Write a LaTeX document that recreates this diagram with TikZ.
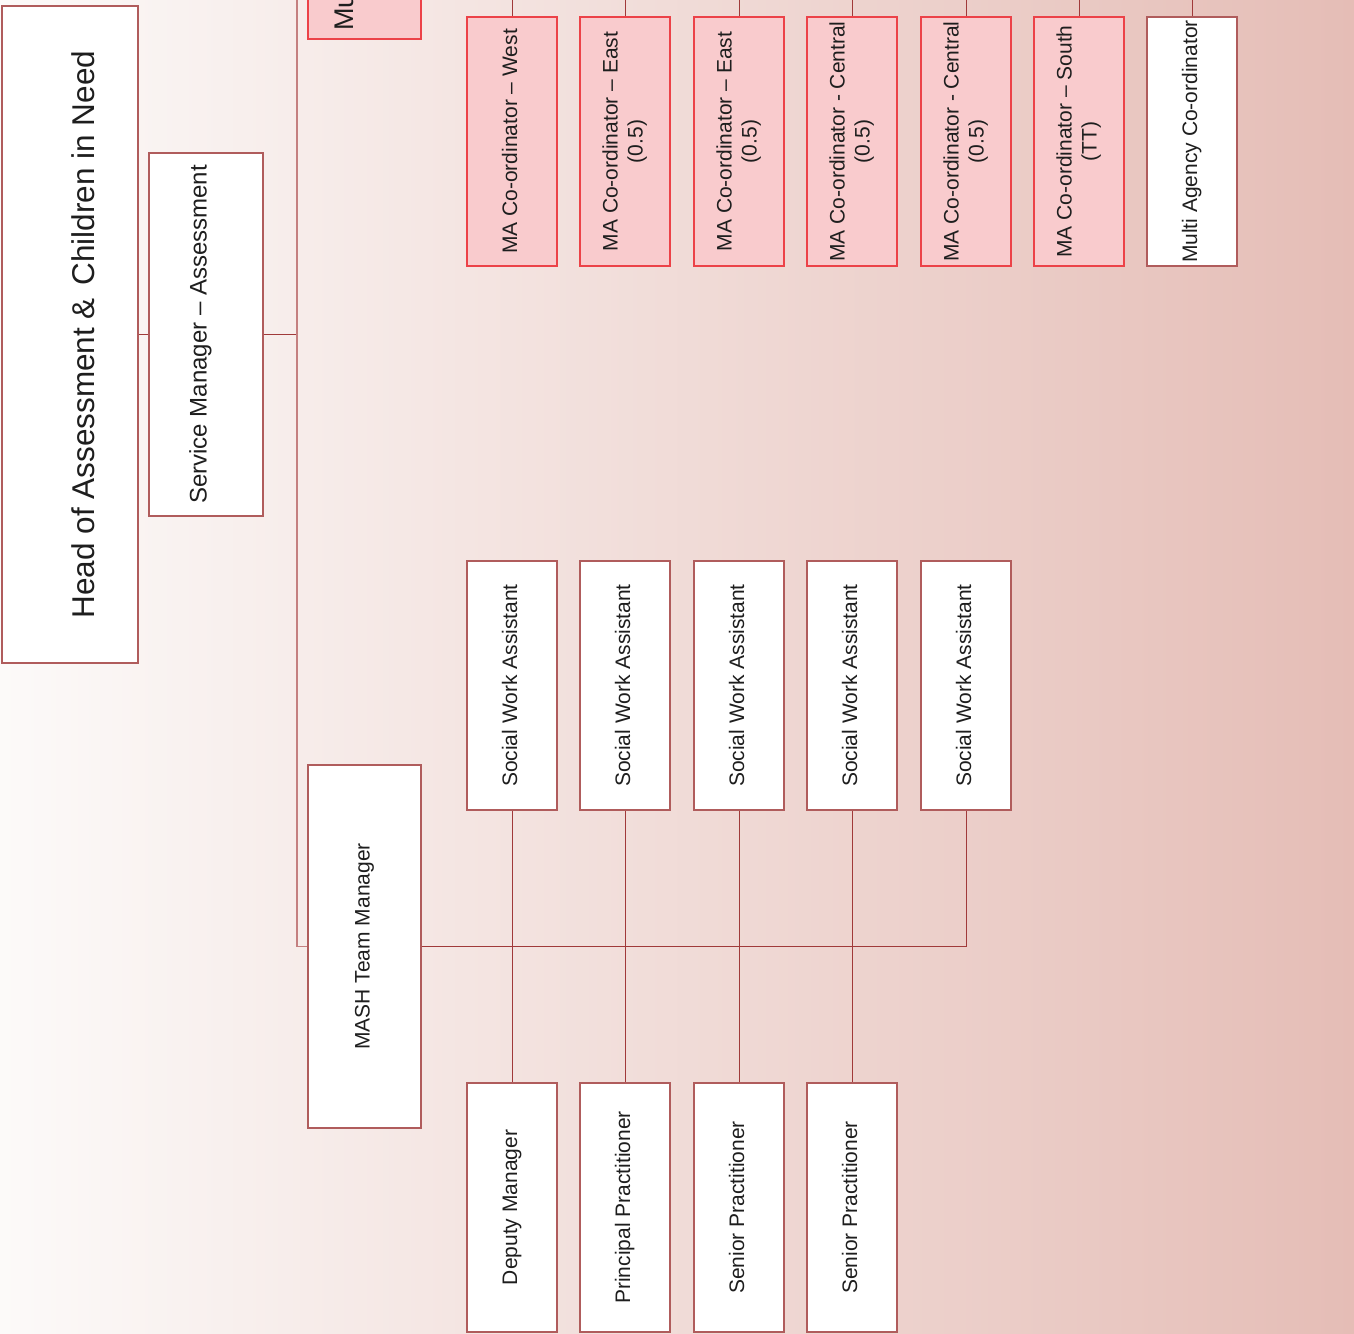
\documentclass[tikz,border=0pt]{standalone}
\usepackage{fontspec}
\setmainfont{Liberation Sans}

\definecolor{bgL}{RGB}{252,250,249}
\definecolor{bgM}{RGB}{243,223,221}
\definecolor{bgR}{RGB}{229,189,182}
\definecolor{frame}{RGB}{176,92,92}
\definecolor{wirec}{RGB}{160,58,58}
\definecolor{trunkc}{RGB}{196,128,128}
\definecolor{mafill}{RGB}{249,203,205}
\definecolor{maline}{RGB}{236,66,72}
\definecolor{ink}{RGB}{30,30,30}

% vertical (bottom-to-top) label, one or more centred lines
\newcommand\uptext[1]{\rotatebox{90}{\begin{tabular}{@{}c@{}}#1\end{tabular}}}

\tikzset{
  x=1pt, y=-1pt,
  post/.style={draw=frame, line width=1.3pt, fill=white, inner sep=0pt,
    text=ink, font=\fontsize{21}{25}\selectfont,
    minimum width=90pt, minimum height=249pt},
  mapost/.style={post, draw=maline, fill=mafill},
  wire/.style={draw=wirec, line width=1pt},
  trunkwire/.style={draw=trunkc, line width=1.4pt},
}

\begin{document}
\begin{tikzpicture}
\useasboundingbox (0,0) rectangle (1354,1333);
\clip (0,0) rectangle (1354,1333);
\shade[left color=bgL, middle color=bgM, right color=bgR] (0,0) rectangle (1354,1333);

% senior management
\node[post, minimum width=136pt, minimum height=657pt,
      font=\fontsize{31.5}{36}\selectfont] (head) at (70,334.5)
  {\hspace*{26pt}\rotatebox{90}{Head of Assessment \&\hspace{4pt} Children in Need}};
\node[post, minimum width=114pt, minimum height=363pt,
      font=\fontsize{24}{28}\selectfont] (sm) at (206,334.5)
  {\rotatebox{90}{Service Manager – Assessment}\hspace*{11pt}};

% partially visible box at the top
\node[mapost, minimum width=113pt, minimum height=140pt] (mu) at (364.5,-31) {};
\node[rotate=90, anchor=base west, inner sep=0pt, text=ink,
      font=\fontsize{27}{30}\selectfont] (mutext) at (353,31) {Mu};

% MASH team
\node[post, minimum width=113pt, minimum height=363pt] (mash) at (364.5,946.5)
  {\uptext{MASH Team Manager}};

% co-ordinators row
\node[mapost] (ma1) at (512,141.5)  {\uptext{MA Co-ordinator – West}};
\node[mapost] (ma2) at (625,141.5)  {\uptext{MA Co-ordinator – East\\(0.5)}};
\node[mapost] (ma3) at (739,141.5)  {\uptext{MA Co-ordinator – East\\(0.5)}};
\node[mapost] (ma4) at (852,141.5)  {\uptext{MA Co-ordinator - Central\\(0.5)}};
\node[mapost] (ma5) at (966,141.5)  {\uptext{MA Co-ordinator - Central\\(0.5)}};
\node[mapost] (ma6) at (1079,141.5) {\uptext{MA Co-ordinator – South\\(TT)}};
\node[post]   (ma7) at (1192,141.5) {\uptext{Multi Agency Co-ordinator}};

% social work assistants
\foreach \i/\cx in {1/512,2/625,3/739,4/852,5/966}
  \node[post] (swa\i) at (\cx,685.5) {\uptext{Social Work Assistant}};

% practitioners
\node[post] (bot1) at (512,1207.5) {\uptext{Deputy Manager}};
\node[post] (bot2) at (625,1207.5) {\uptext{Principal Practitioner}};
\node[post] (bot3) at (739,1207.5) {\uptext{Senior Practitioner}};
\node[post] (bot4) at (852,1207.5) {\uptext{Senior Practitioner}};

% connectors
\coordinate (trunktop) at (297,0);
\coordinate (trunkbot) at (297,946.5);
\draw[wire] (head.east) -- (sm.west);
\draw[wire] (sm.east) -- (sm.east -| trunktop);
\draw[trunkwire] (trunktop) -- (trunkbot) -- (mash.west);

\draw[wire, line width=1.7pt] (mash.east) -- (swa4.south |- mash.east);
\draw[wire] (swa4.south |- mash.east) -- (swa5.south |- mash.east) -- (swa5.south);
\foreach \i in {1,2,3,4}
  \draw[wire] (swa\i.south) -- (bot\i.north);

\foreach \i/\cx in {1/512,2/625,3/739,4/852,5/966,6/1079,7/1192}{
  \coordinate (feed\i) at (\cx,0);
  \draw[wire] (feed\i) -- (ma\i.north);
}
\end{tikzpicture}
\end{document}
